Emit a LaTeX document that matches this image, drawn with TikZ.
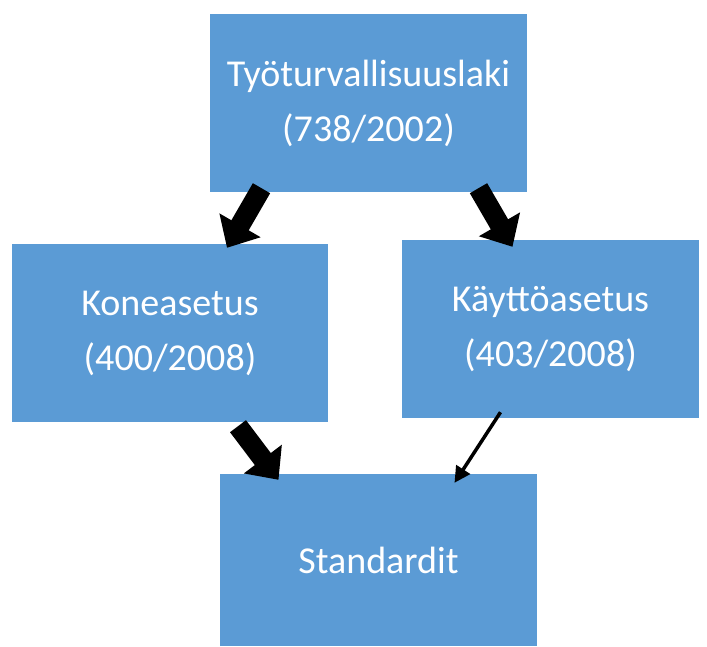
\documentclass[tikz,border=0pt]{standalone}
\usepackage{fontspec}
\setmainfont{Carlito}
\usetikzlibrary{arrows.meta,calc}
\definecolor{boxblue}{HTML}{5B9BD5}

\begin{document}
\begin{tikzpicture}[x=1pt,y=-1pt]
				\tikzstyle{every node}=[fill=boxblue,text=white,font=\fontsize{38}{55}\selectfont,align=center,inner sep=0pt]
				\tikzstyle{laki}=[minimum width=317pt,minimum height=178pt]
				\tikzstyle{fatarrow}=[line width=20pt,-{Triangle[width=46pt,length=26pt]}]
				\tikzstyle{thinarrow}=[line width=3.5pt,-{Triangle[width=16pt,length=16pt]}]
				\useasboundingbox (0,0) rectangle (707,646);
				\node[laki] (tsl) at (368.5,103) {Työturvallisuuslaki\\(738/2002)};
				\node[laki,minimum width=316pt] (kone) at (170,333) {Koneasetus\\(400/2008)};
				\node[laki,minimum width=297pt] (kaytto) at (550.5,329) {Käyttöasetus\\(403/2008)};
				\node[laki,minimum height=172pt] (std) at (378.5,560) {Standardit};
				\draw[fatarrow] ([xshift=-107pt,yshift=4pt]tsl.south) -- ([xshift=57pt,yshift=-4pt]kone.north);
				\draw[fatarrow] ([xshift=110pt,yshift=4pt]tsl.south) -- ([xshift=-38pt,yshift=-7pt]kaytto.north);
				\draw[fatarrow] ([xshift=68pt,yshift=-4pt]kone.south) -- ([xshift=-100pt,yshift=-6pt]std.north);
				\draw[thinarrow] ([xshift=-50pt,yshift=6pt]kaytto.south) -- ([xshift=76pt,yshift=-9pt]std.north);
\end{tikzpicture}
\end{document}
